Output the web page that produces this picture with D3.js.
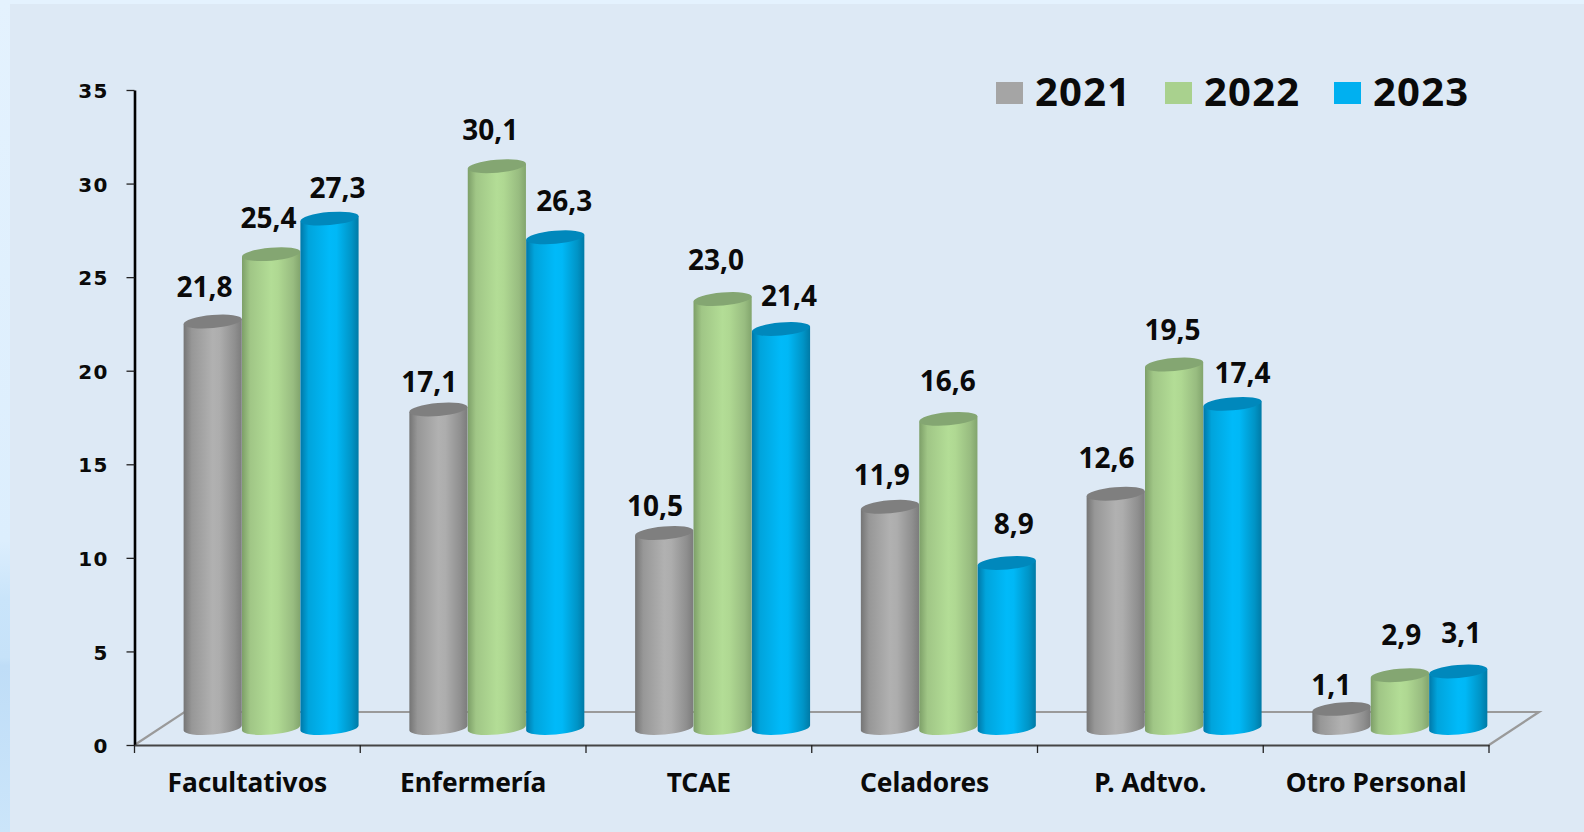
<!DOCTYPE html>
<html><head><meta charset="utf-8">
<script src="https://cdnjs.cloudflare.com/ajax/libs/d3/7.8.5/d3.min.js"></script>
<style>html,body{margin:0;padding:0;background:#dde9f5;overflow:hidden}svg{display:block}
text{font-family:"Noto Sans",sans-serif;font-weight:700;fill:#0a0a0a}</style></head><body>
<svg id="c" width="1584" height="832"></svg>
<script>
const categories = ["Facultativos","Enfermería","TCAE","Celadores","P. Adtvo.","Otro Personal"];
const seriesNames = ["2021","2022","2023"];
const values2021 = [21.8,17.1,10.5,11.9,12.6,1.1];
const values2022 = [25.4,30.1,23.0,16.6,19.5,2.9];
const values2023 = [27.3,26.3,21.4,8.9,17.4,3.1];
const yTicks = [0,5,10,15,20,25,30,35];
const seriesValues = [values2021,values2022,values2023];
const fmt = v => v.toFixed(1).replace(".",",");

// layout nudges for the hand-placed data labels (one row per series)
const labelDx = [[-8,-9,-9,-8,-9,-10],[-2,-6,-6,0,-1,2],[9,10,9,8,11,4]];
const labelDy = [[-23,-16,-16,-20,-24,-12],[-25,-25,-28,-26,-23,-29],[-19,-25,-22,-27,-19,-27]];

const palette = [
 {cap:"#7f7f7f",stops:["#757575","#979797","#b1b1b1","#adadad","#8f8f8f","#7c7c7c"]},
 {cap:"#84a672",stops:["#7d9f68","#a0c686","#b3dd96","#afd892","#98bc80","#82a56d"]},
 {cap:"#0088bc",stops:["#0078a8","#00a4dc","#00baf9","#00b8f6","#0094c6","#007aa6"]}
];
const swatch = ["#a5a5a5","#a9d18e","#00b0f0"];

const svg = d3.select("#c");
const defs = svg.append("defs");
const bgG = defs.append("linearGradient").attr("id","strip").attr("x1",0).attr("y1",0).attr("x2",0).attr("y2",1);
[[0,"#e4f2fe"],[.65,"#dceefd"],[.72,"#c9e4fa"],[.79,"#c6e2f9"],[.8,"#bfddf7"],[1,"#cbe5fa"]].forEach(s=>bgG.append("stop").attr("offset",s[0]).attr("stop-color",s[1]));
palette.forEach((p,i)=>{
  const g = defs.append("linearGradient").attr("id","cyl"+i).attr("x1",0).attr("x2",1).attr("y1",0).attr("y2",0);
  [0,.14,.5,.62,.88,1].forEach((o,k)=>g.append("stop").attr("offset",o).attr("stop-color",p.stops[k]));
});

svg.append("rect").attr("width",1584).attr("height",832).attr("fill","url(#strip)");
svg.append("rect").attr("x",10).attr("y",4).attr("width",1574).attr("height",828).attr("fill","#dde9f5");

const x = d3.scaleBand().domain(categories).range([134.5,1489]);
const y = d3.scaleLinear().domain([0,35]).range([745,90]);
const depthX = 50, depthY = 33, lift = 17, topLift = 15.5;   // 3-D floor projection

// floor
const y0 = y(0);
svg.append("path").attr("fill","none").attr("stroke","#9a9a9a").attr("stroke-width",2.2)
  .attr("d",d3.line()([[x.range()[0],y0],[x.range()[0]+depthX,y0-depthY],[x.range()[1]+depthX,y0-depthY],[x.range()[1],y0]]));

// cylinders
const barW = 58.4, rx = 29.2, ry = 6.5, tilt = 5*Math.PI/180;
const gapLeft = 49, labelStep = 58;
const dxT = rx*Math.cos(tilt), dyT = rx*Math.sin(tilt);
seriesValues.forEach((vals,s)=>{
  const g = svg.append("g");
  g.selectAll("g").data(categories.map((c,i)=>({c,i,v:vals[i]}))).join("g").each(function(d){
    const cx = x(d.c)+gapLeft+barW*(s+.5);
    const top = y(d.v)-topLift, base = y(0)-lift;
    const sel = d3.select(this);
    sel.append("path").attr("fill",`url(#cyl${s})`)
      .attr("d",`M${cx-dxT},${top+dyT}L${cx-dxT},${base+dyT}A${rx},${ry} -5 0 0 ${cx+dxT},${base-dyT}L${cx+dxT},${top-dyT}Z`);
    sel.append("ellipse").attr("cx",cx).attr("cy",top).attr("rx",rx).attr("ry",ry)
      .attr("transform",`rotate(-5 ${cx} ${top})`).attr("fill",palette[s].cap);
  });
});

// axes
const gy = svg.append("g").attr("transform",`translate(${x.range()[0]},0)`)
  .call(d3.axisLeft(y).tickValues(yTicks).tickSize(8).tickPadding(18).tickSizeOuter(0));
gy.select(".domain").attr("stroke","#000").attr("stroke-width",2.6);
gy.selectAll(".tick line").attr("stroke","#222").attr("stroke-width",1.3);
gy.selectAll("text").style("font-family","'DejaVu Sans'").style("letter-spacing","1.2px").attr("font-size",20).attr("fill","#0a0a0a").attr("font-weight",700).attr("dy","0.38em");

const gx = svg.append("g").attr("transform",`translate(0,${y0})`)
  .call(d3.axisBottom(x).tickSize(0).tickPadding(28));
gx.select(".domain").attr("stroke","#454545").attr("stroke-width",2);
gx.selectAll("text").attr("font-size",26.3).attr("fill","#0a0a0a").attr("font-weight",700);
// boundary ticks between categories
svg.append("g").selectAll("line").data(d3.range(categories.length+1)).join("line")
  .attr("x1",i=>x.range()[0]+i*x.step()).attr("x2",i=>x.range()[0]+i*x.step())
  .attr("y1",y0).attr("y2",y0+8).attr("stroke","#222").attr("stroke-width",1.3);

// data labels
seriesValues.forEach((vals,s)=>{
  svg.append("g").selectAll("text").data(vals).join("text")
    .attr("text-anchor","middle").attr("font-size",28)
    .attr("x",(v,i)=>x(categories[i])+gapLeft+labelStep*(s+.5)+labelDx[s][i])
    .attr("y",(v,i)=>y(v)-lift+labelDy[s][i])
    .text(fmt);
});

// legend
const legX = d3.scalePoint().domain(seriesNames).range([996,1334]);
const leg = svg.append("g").selectAll("g").data(seriesNames).join("g").attr("transform",d=>`translate(${legX(d)},0)`);
leg.append("rect").attr("y",82).attr("width",27).attr("height",22).attr("fill",(d,i)=>swatch[i]);
leg.append("text").attr("x",39).attr("y",106).attr("font-size",40).style("letter-spacing","1.2px").text(d=>d);
</script></body></html>
